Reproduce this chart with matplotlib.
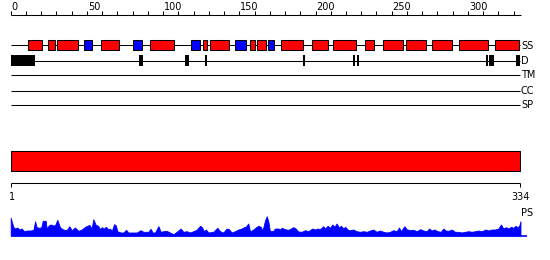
import matplotlib
matplotlib.use("Agg")
import matplotlib.pyplot as plt
from matplotlib.patches import Rectangle
import numpy as np

# ---------------- data ----------------
seq_length = 334
top_ticks_minor = list(range(0, 331, 10))
top_tick_labels = [0, 50, 100, 150, 200, 250, 300]

# secondary structure elements (start, end, type) H = helix (red), E = strand (blue)
ss_start = [11.6, 24.7, 30.6, 48.3, 59.5, 80.5, 91.7, 118.6, 126.5, 131.1, 147.5, 156.7,
            161.9, 169.1, 177.5, 198.0, 211.8, 232.8, 244.0, 259.1, 276.2, 293.9, 317.5]
ss_end = [20.7, 29.3, 44.0, 53.6, 71.3, 86.0, 107.4, 124.5, 128.7, 143.1, 154.7, 160.0,
          167.4, 172.9, 192.1, 207.9, 226.3, 238.7, 257.1, 272.2, 289.8, 312.9, 333.8]
ss_type = ['H', 'H', 'H', 'E', 'H', 'E', 'H', 'E', 'H', 'H', 'E', 'H',
           'H', 'E', 'H', 'H', 'H', 'H', 'H', 'H', 'H', 'H', 'H']

# disorder segments
d_start = [0.0, 84.0, 114.4, 127.5, 191.6, 224.6, 227.4, 311.7, 314.0, 331.6]
d_end = [15.7, 86.6, 117.0, 128.6, 192.9, 226.1, 228.7, 313.0, 317.3, 334.2]

row_labels = ['SS', 'D', 'TM', 'CC', 'SP']

# domain bar
domain_start = 0
domain_end = 334
bottom_tick_pos = [0, 334]
bottom_tick_labels = ['1', '334']

# PS profile (position, score)
ps_pos = [0, 1.7, 2.8, 4.4, 5.7, 7.2, 8.7, 10.5, 13.1, 14.9, 16.0, 17.0, 18.8, 20.1, 21.0,
          23.0, 23.6, 25.1, 26.2, 28.0, 29.1, 30.6, 32.4, 34.5, 36.7, 38.5, 40.0, 42.2,
          44.4, 46.6, 48.8, 50.3, 51.6, 53.1, 54.2, 55.7, 57.5, 58.6, 59.7, 61.2, 62.5,
          64.1, 65.2, 66.3, 67.8, 68.9, 70.0, 72.2, 73.9, 75.7, 77.2, 80.0, 82.7, 85.3,
          87.0, 90.3, 91.8, 93.1, 94.7, 96.9, 98.4, 100.2, 102.3, 104.5, 106.7, 108.9,
          111.5, 113.3, 115.5, 117.7, 119.8, 122.0, 124.2, 125.3, 126.9, 128.1, 129.7,
          132.9, 135.6, 137.3, 139.5, 141.7, 143.2, 145.0, 147.2, 149.4, 151.6, 153.1,
          154.2, 155.9, 157.0, 159.2, 161.0, 162.5, 164.0, 165.3, 166.9, 168.0, 169.1,
          170.1, 172.3,
          173.4, 175.6, 176.7, 177.8, 180.0, 182.2, 183.9, 185.5, 187.0, 188.7, 190.9,
          193.1, 195.3, 197.9, 199.7, 201.4, 202.9, 205.1, 206.2, 208.0, 209.5, 211.1,
          212.4, 213.9, 215.4, 216.7, 218.3, 219.4, 221.1, 222.6, 224.8, 227.0, 229.2,
          231.4, 233.6, 235.8, 238.0, 240.1, 242.3, 244.5, 246.7, 248.9, 251.1, 253.3,
          254.8, 256.1, 258.3, 259.8, 262.0, 264.2, 266.4, 268.6, 270.8, 273.0, 274.5,
          276.2, 278.0, 280.2, 282.2, 283.9, 285.4, 287.2, 289.4, 291.5, 293.7, 295.9,
          298.1, 300.3, 302.5, 304.7, 306.8, 309.0, 311.7, 313.4, 315.6, 317.8, 320.0,
          321.7, 323.2, 325.0, 326.5, 328.3, 329.8, 331.3, 332.6, 333.8, 334.5]
ps_score = [17.7, 8.7, 7, 8, 6, 7, 4.3, 5, 5, 5.7, 14.3, 8.3, 7.7, 8.3, 14.7,
            14.7, 7, 10.3, 11, 10, 10.3, 15.7, 8, 6, 5.3, 9.3, 5.3, 8,
            4.7, 6, 8.7, 9.7, 10.7, 7, 16.3, 11, 9.3, 6.3, 8.3, 7, 8.7,
            6, 7, 4.3, 11.3, 10.3, 4.3, 3, 3, 5.7, 3, 3, 3, 5.3,
            3.7, 3.7, 6.7, 3, 3, 9.3, 3.7, 4.3, 4.7, 3, 1.3, 3.7,
            7, 3.7, 4.3, 3, 4.3, 5.7, 9.7, 8.7, 4.3, 6, 3,
            3.7, 7.7, 4.3, 3, 7, 6.3, 3, 4.3, 6, 7, 8.3,
            8.7, 12, 4.3, 6, 8.3, 9.7, 8.7, 5.3, 15.3, 19.3, 13.7,
            4.3, 4.7,
            7, 7, 6, 7.7, 6.3, 5.7, 7, 8.3, 7, 4, 3.7,
            5.3, 4.3, 7, 6, 7, 6.3, 9.3, 7, 9.7, 7.7, 11,
            8.7, 12, 8, 9.7, 7, 8.7, 6, 5.3, 6, 4.3, 3.7,
            4.3, 3.7, 5, 6, 3.7, 5, 3.7, 3, 3.7, 5.3, 4.3,
            8, 4.3, 9.3, 6.3, 5.3, 5.7, 4.3, 6.3, 5, 4.3, 7,
            5, 6, 4.3, 3.7, 7, 5, 4.7, 6, 3.7, 3.7, 3,
            3.7, 4.3, 3.7, 4.3, 5, 4.3, 6, 5, 6, 6, 7,
            11, 7, 8.3, 7, 8.7, 7.7, 9.7, 8, 10.3, 14.3]

# ---------------- drawing ----------------
W, H = 550, 260
fig = plt.figure(figsize=(W / 100, H / 100), dpi=100)
ax = fig.add_axes([0, 0, 1, 1])
px_per_res = 1.524
x0_px = 10.7
ax.set_xlim(-x0_px / px_per_res, (W - x0_px) / px_per_res)
ax.set_ylim(H, 0)
ax.axis('off')

LW = 0.75
FS = 7
font = dict(family='DejaVu Sans', fontsize=FS, color='black')

# top ruler
y_rule = 15
ax.plot([0, seq_length + 1], [y_rule, y_rule], color='black', lw=LW, solid_capstyle='butt')
for t in top_ticks_minor:
    ax.plot([t, t], [y_rule - 4, y_rule], color='black', lw=LW, solid_capstyle='butt')
for t in top_tick_labels:
    ax.text(t + 0.6, 10.5, str(t), ha='left', va='baseline', **font)

# track rows
row_y = {'SS': 45.3, 'D': 60.5, 'TM': 75, 'CC': 90.5, 'SP': 105}
for lab in row_labels:
    y = row_y[lab]
    ax.plot([0, seq_length], [y, y], color='black', lw=LW, solid_capstyle='butt', zorder=1)
    ax.text(seq_length + 0.8, y + 0.3, lab, ha='left', va='center', **font)

# SS boxes
ss_colors = {'H': '#ff0000', 'E': '#0000ff'}
for s, e, t in zip(ss_start, ss_end, ss_type):
    ax.add_patch(Rectangle((s, row_y['SS'] - 5), e - s, 10, facecolor=ss_colors[t],
                           edgecolor='black', lw=LW, zorder=2))

# disorder boxes
for s, e in zip(d_start, d_end):
    ax.add_patch(Rectangle((s, row_y['D'] - 5.2), e - s, 10.4, facecolor='black',
                           edgecolor='none', zorder=2))

# domain bar
ax.add_patch(Rectangle((domain_start, 150.5), domain_end - domain_start, 20.5,
                       facecolor='#ff0000', edgecolor='black', lw=LW, zorder=2))

# bottom ruler
y_b = 182.8
ax.plot([bottom_tick_pos[0], bottom_tick_pos[-1]], [y_b, y_b], color='black', lw=LW,
        solid_capstyle='butt')
for p, lab in zip(bottom_tick_pos, bottom_tick_labels):
    ax.plot([p, p], [y_b, y_b + 4.5], color='black', lw=LW, solid_capstyle='butt')
    ax.text(p + 0.8, 200.5, lab, ha='center', va='baseline', **font)

# PS profile
ax.text(seq_length + 0.8, 215.8, 'PS', ha='left', va='baseline', **font)
base = 235.5
pos = np.array(ps_pos)
sc = np.array(ps_score)
ax.fill_between(pos, base, base - sc, facecolor='#0000ff', edgecolor='#0000ff', lw=0.6,
                zorder=2)
ax.plot([0, seq_length + 4.5], [base, base], color='#0000ff', lw=1.2, solid_capstyle='butt')

fig.savefig('out.png', dpi=100)
